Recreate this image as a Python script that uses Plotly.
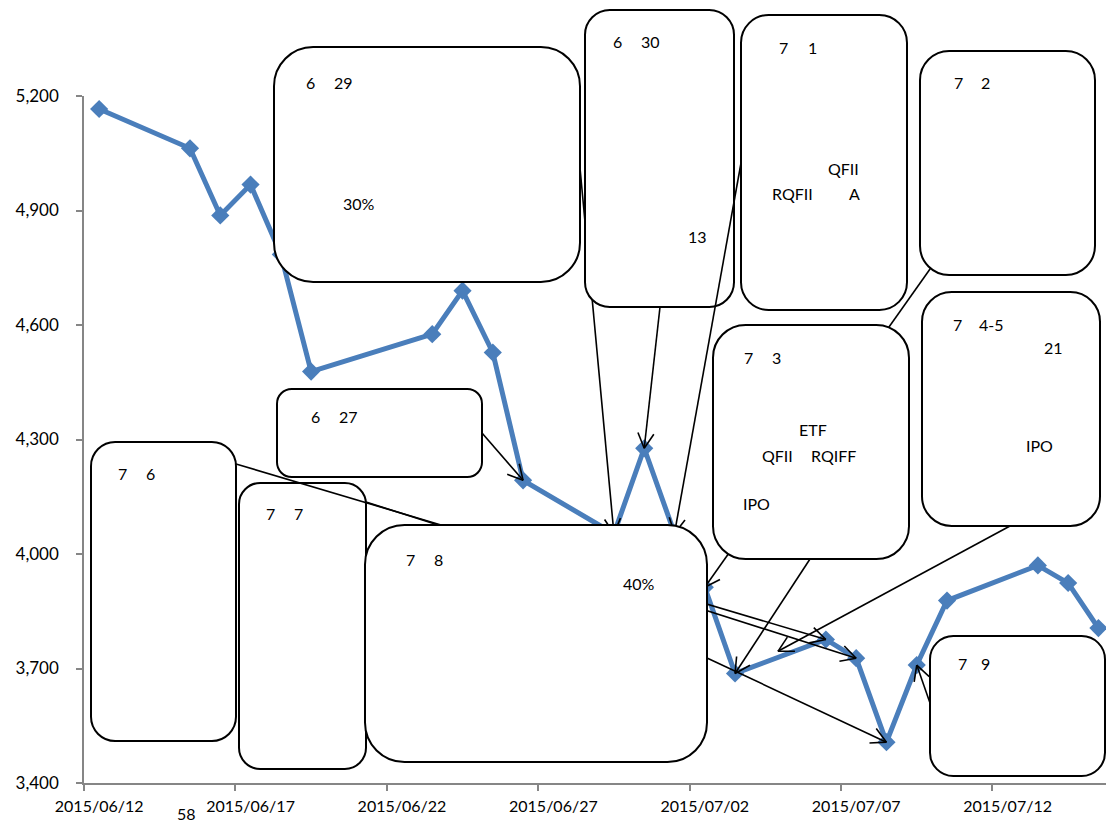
import math
import pandas as pd
import plotly.graph_objects as go

# Shanghai Composite closes, June-July 2015
dates = ["2015-06-12", "2015-06-15", "2015-06-16", "2015-06-17", "2015-06-18", "2015-06-19",
         "2015-06-23", "2015-06-24", "2015-06-25", "2015-06-26", "2015-06-29", "2015-06-30",
         "2015-07-01", "2015-07-02", "2015-07-03", "2015-07-06", "2015-07-07", "2015-07-08",
         "2015-07-09", "2015-07-10", "2015-07-13", "2015-07-14", "2015-07-15"]
closes = [5166, 5063, 4887, 4968, 4785, 4478,
          4576, 4690, 4528, 4193, 4053, 4277,
          4054, 3913, 3687, 3776, 3727, 3507,
          3709, 3878, 3970, 3924, 3806]

x_tick_dates = ["2015-06-12", "2015-06-17", "2015-06-22", "2015-06-27",
                "2015-07-02", "2015-07-07", "2015-07-12"]
x_tick_labels = ["2015/06/12", "2015/06/17", "2015/06/22", "2015/06/27",
                 "2015/07/02", "2015/07/07", "2015/07/12"]
y_ticks = [3400, 3700, 4000, 4300, 4600, 4900, 5200]

# ---- page geometry ----
W, H = 1106, 823
ML, MR, MT, MB = 84, 0, 96, 40
PW, PH = W - ML - MR, H - MT - MB
X0 = pd.Timestamp("2015-06-11 12:00")
X1 = pd.Timestamp("2015-07-15 06:00")
Y0, Y1 = 3400, 5200
DAY = pd.Timedelta(days=1)
span_days = (X1 - X0) / DAY

FONT = "Lato"
BLUE = "#4a7ebb"
AXIS = "#868686"


def to_px(t, v):
    t = pd.Timestamp(t)
    return (ML + (t - X0) / DAY / span_days * PW,
            H - MB - (v - Y0) / (Y1 - Y0) * PH)


def to_data(px, py):
    t = X0 + DAY * ((px - ML) / PW * span_days)
    v = Y0 + (H - MB - py) / PH * (Y1 - Y0)
    return t.strftime("%Y-%m-%d %H:%M:%S.%f"), v


def to_paper(px, py):
    return (px - ML) / PW, (H - MB - py) / PH


def rounded_box(l, t, r, b):
    rad = min(r - l, b - t) / 6.0
    k = 0.5523 * rad

    def p(x, y):
        X, Y = to_paper(x, y)
        return f"{X:.5f},{Y:.5f}"

    d = (f"M{p(l + rad, t)} L{p(r - rad, t)} "
         f"C{p(r - rad + k, t)} {p(r, t + rad - k)} {p(r, t + rad)} "
         f"L{p(r, b - rad)} "
         f"C{p(r, b - rad + k)} {p(r - rad + k, b)} {p(r - rad, b)} "
         f"L{p(l + rad, b)} "
         f"C{p(l + rad - k, b)} {p(l, b - rad + k)} {p(l, b - rad)} "
         f"L{p(l, t + rad)} "
         f"C{p(l, t + rad - k)} {p(l + rad - k, t)} {p(l + rad, t)} Z")
    return dict(type="path", path=d, xref="paper", yref="paper", layer="above",
                fillcolor="white", line=dict(color="black", width=2))


def connector(tail_px, head_t, head_v, arm=17, half_angle=28):
    """Straight callout line ending in an open arrowhead at (head_t, head_v)."""
    tx, ty = tail_px
    hx, hy = to_px(head_t, head_v)
    tail_t, tail_v = to_data(tx, ty)
    head_ts = pd.Timestamp(head_t).strftime("%Y-%m-%d %H:%M:%S.%f")
    out = [dict(type="line", xref="x", yref="y", layer="above",
                x0=tail_t, y0=tail_v, x1=head_ts, y1=head_v,
                line=dict(color="black", width=1.6))]
    ang = math.atan2(ty - hy, tx - hx)
    for s in (-1, 1):
        a = ang + s * math.radians(half_angle)
        ex, ey = hx + arm * math.cos(a), hy + arm * math.sin(a)
        et, ev = to_data(ex, ey)
        out.append(dict(type="line", xref="x", yref="y", layer="above",
                        x0=head_ts, y0=head_v, x1=et, y1=ev,
                        line=dict(color="black", width=1.6)))
    return out


def point(day):
    i = dates.index(day)
    return dates[i], closes[i]


# callout boxes (left, top, right, bottom)
boxes = {
    "0627": (277, 389, 482, 477),
    "0629": (274, 47, 580, 282),
    "0630": (585, 10, 734, 307),
    "0701": (741, 15, 907, 310),
    "0702": (920, 51, 1095, 275),
    "0703": (713, 325, 909, 559),
    "0704": (922, 292, 1100, 526),
    "0706": (91, 442, 236, 741),
    "0707": (239, 483, 366, 769),
    "0708": (365, 525, 707, 762),
    "0709": (930, 636, 1105, 776),
}

# callout line start points on the box edges
links = {
    "0627": ((482, 433), point("2015-06-26")),
    "0629": ((580, 168), point("2015-06-29")),
    "0630": ((660, 307), point("2015-06-30")),
    "0701": ((741, 163), point("2015-07-01")),
    "0702": ((935, 262), point("2015-07-02")),
    "0703": ((810, 559), point("2015-07-03")),
    "0704": ((1010, 526), ("2015-07-04 10:00", 3745)),
    "0706": ((236, 464), point("2015-07-06")),
    "0707": ((366, 502), point("2015-07-07")),
    "0708": ((707, 658), point("2015-07-08")),
    "0709": ((930, 703), point("2015-07-09")),
}

# stacking order of boxes and callout lines
order = [("box", "0707"), ("link", "0706"), ("link", "0707"), ("link", "0629"),
         ("box", "0630"), ("link", "0701"), ("link", "0702"), ("box", "0703"),
         ("box", "0708"), ("box", "0627"), ("box", "0629"), ("box", "0701"),
         ("box", "0702"), ("box", "0704"), ("box", "0706"), ("box", "0709"),
         ("link", "0627"), ("link", "0630"), ("link", "0703"), ("link", "0704"),
         ("link", "0708"), ("link", "0709")]

shapes = []
for kind, key in order:
    if kind == "box":
        shapes.append(rounded_box(*boxes[key]))
    else:
        tail, (ht, hv) = links[key]
        shapes.extend(connector(tail, ht, hv))

# visible box text: (left x, centre y, text)
texts = [
    (305, 82, "6"), (333, 82, "29"), (342, 203, "30%"),
    (612, 41, "6"), (640, 41, "30"), (687, 236, "13"),
    (778, 47, "7"), (807, 47, "1"), (827, 168, "QFII"), (771, 193, "RQFII"), (848, 193, "A"),
    (953, 83, "7"), (980, 83, "2"),
    (310, 416, "6"), (338, 416, "27"),
    (743, 357, "7"), (771, 357, "3"), (798, 430, "ETF"), (761, 455, "QFII"),
    (810, 455, "RQIFF"), (742, 503, "IPO"),
    (952, 324, "7"), (978, 324, "4-5"), (1043, 347, "21"), (1025, 445, "IPO"),
    (117, 473, "7"), (145, 473, "6"),
    (265, 513, "7"), (293, 513, "7"),
    (405, 559, "7"), (433, 559, "8"), (622, 583, "40%"),
    (957, 663, "7"), (980, 663, "9"),
    (176, 813, "58"),
]
annotations = []
for px, py, s in texts:
    X, Y = to_paper(px, py)
    annotations.append(dict(x=X, y=Y, xref="paper", yref="paper", text=s,
                            showarrow=False, xanchor="left", yanchor="middle",
                            borderpad=0,
                            font=dict(family=FONT, size=16, color="black")))

fig = go.Figure()
fig.add_trace(go.Scatter(
    x=dates, y=closes, mode="lines+markers",
    line=dict(color=BLUE, width=5),
    marker=dict(symbol="diamond", size=14, color=BLUE),
    cliponaxis=False, hoverinfo="x+y",
))

fig.update_layout(
    width=W, height=H,
    margin=dict(l=ML, r=MR, t=MT, b=MB, pad=0),
    paper_bgcolor="white", plot_bgcolor="white",
    showlegend=False,
    font=dict(family=FONT, size=16, color="black"),
    shapes=shapes,
    annotations=annotations,
    xaxis=dict(
        type="date", range=[X0, X1], showgrid=False, zeroline=False,
        showline=True, linecolor=AXIS, linewidth=1.5,
        tickmode="array", tickvals=x_tick_dates, ticktext=x_tick_labels,
        ticks="", ticklabelstandoff=8,
        tickfont=dict(family=FONT, size=16, color="black"),
        minor=dict(ticks="outside", ticklen=6, tickwidth=1.5, tickcolor=AXIS,
                   tick0="2015-06-11 12:00", dtick=5 * 86400000, showgrid=False),
    ),
    yaxis=dict(
        range=[Y0, Y1], showgrid=False, zeroline=False,
        showline=True, linecolor=AXIS, linewidth=1.5,
        tickmode="array", tickvals=y_ticks, tickformat=",",
        ticks="outside", ticklen=6, tickwidth=1.5, tickcolor=AXIS,
        ticklabelstandoff=14,
        tickfont=dict(family=FONT, size=17, color="black"),
    ),
)

fig.write_html("out.html")
